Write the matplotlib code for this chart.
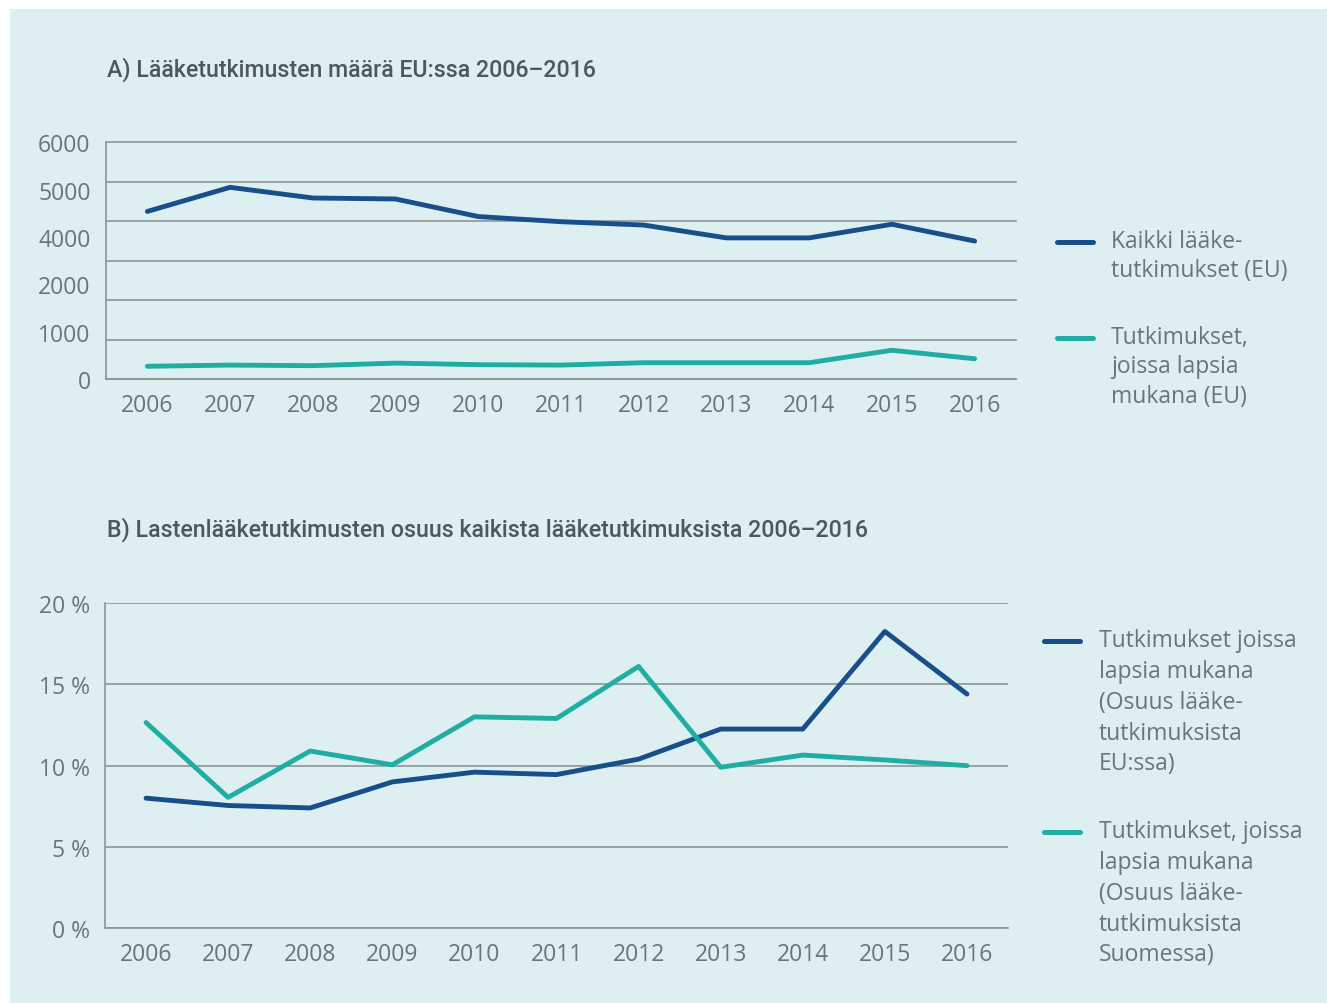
import matplotlib
matplotlib.use("Agg")
import matplotlib.pyplot as plt
from matplotlib.patches import Rectangle
from matplotlib.lines import Line2D
from matplotlib.ticker import FixedLocator

# ---- data ----
years = [2006, 2007, 2008, 2009, 2010, 2011, 2012, 2013, 2014, 2015, 2016]
all_trials_eu = [4250, 4860, 4590, 4565, 4120, 3990, 3905, 3580, 3580, 3925, 3500]
child_trials_eu = [330, 360, 345, 410, 370, 360, 420, 420, 420, 735, 520]
share_children_eu = [8.0, 7.55, 7.4, 9.0, 9.6, 9.45, 10.4, 12.25, 12.25, 18.25, 14.4]
share_children_fi = [12.65, 8.05, 10.9, 10.05, 13.0, 12.9, 16.1, 9.9, 10.65, 10.35, 10.0]

top_gridlines = [0, 1000, 2000, 3000, 4000, 5000, 6000]
top_tick_pos = [0, 1200, 2400, 3600, 4800, 6000]
top_tick_labels = ["0", "1000", "2000", "4000", "5000", "6000"]
bottom_ticks = [0, 5, 10, 15, 20]
bottom_tick_labels = ["0 %", "5 %", "10 %", "15 %", "20 %"]

title_a = "A) Lääketutkimusten määrä EU:ssa 2006–2016"
title_b = "B) Lastenlääketutkimusten osuus kaikista lääketutkimuksista 2006–2016"
legend_a = ["Kaikki lääke-\ntutkimukset (EU)", "Tutkimukset,\njoissa lapsia\nmukana (EU)"]
legend_b = ["Tutkimukset joissa\nlapsia mukana\n(Osuus lääke-\ntutkimuksista\nEU:ssa)",
            "Tutkimukset, joissa\nlapsia mukana\n(Osuus lääke-\ntutkimuksista\nSuomessa)"]

# ---- style ----
W, H = 1327, 1004
DARK = "#184f8b"
TEAL = "#20ada3"
GRID = "#8d9596"
TXT = "#6b7476"
TITLE = "#4d585c"
BG = "#ddeff0"
FONT = ["Open Sans", "DejaVu Sans"]
TFONT = ["Roboto", "Open Sans", "DejaVu Sans"]
plt.rcParams["font.family"] = FONT

fig = plt.figure(figsize=(W / 100, H / 100), dpi=100, facecolor="white")
fig.add_artist(Rectangle((10 / W, 0), 1 - 10 / W, 1 - 10 / H, transform=fig.transFigure,
                         facecolor=BG, edgecolor="none", zorder=-10))


def px(x, y):
    return x / W, 1 - y / H


def axes_px(left, top, right, bottom):
    return fig.add_axes([left / W, 1 - bottom / H, (right - left) / W, (bottom - top) / H])


def style_axes(ax):
    ax.set_facecolor("none")
    for s in ["top", "right"]:
        ax.spines[s].set_visible(False)
    for s in ["left", "bottom"]:
        ax.spines[s].set_color(GRID)
        ax.spines[s].set_linewidth(1.2)
    ax.set_xlim(2005.5, 2016.5)
    ax.set_xticks(years)
    ax.set_xticklabels([str(y) for y in years])
    ax.tick_params(axis="both", which="both", length=0, labelsize=16.5, labelcolor=TXT)
    ax.tick_params(axis="x", pad=10)
    ax.tick_params(axis="y", pad=11)


# ---- panel A ----
ax1 = axes_px(106, 143.3, 1016, 380.3)
style_axes(ax1)
ax1.set_ylim(0, 6000)
ax1.yaxis.remove_overlapping_locs = False
ax1.yaxis.set_major_locator(FixedLocator(top_tick_pos))
ax1.set_yticklabels(top_tick_labels)
ax1.yaxis.set_minor_locator(FixedLocator(top_gridlines))
ax1.grid(False, which="major")
ax1.grid(True, which="minor", axis="y", color=GRID, linewidth=1.2)
for gl in ax1.yaxis.get_minorticklines() + [t.gridline for t in ax1.yaxis.get_minor_ticks()]:
    gl.set_clip_on(False)
ax1.set_axisbelow(True)
l1, = ax1.plot(years, all_trials_eu, color=DARK, lw=3.5, solid_capstyle="round", zorder=3)
l2, = ax1.plot(years, child_trials_eu, color=TEAL, lw=3.5, solid_capstyle="round", zorder=3)

# ---- panel B ----
ax2 = axes_px(105, 604, 1008, 929.3)
style_axes(ax2)
ax2.set_ylim(0, 20)
ax2.set_yticks(bottom_ticks)
ax2.set_yticklabels(bottom_tick_labels)
ax2.grid(True, axis="y", color=GRID, linewidth=1.2)
ax2.set_axisbelow(True)
l3, = ax2.plot(years, share_children_eu, color=DARK, lw=3.5, solid_capstyle="round", zorder=3)
l4, = ax2.plot(years, share_children_fi, color=TEAL, lw=3.5, solid_capstyle="round", zorder=3)

# ---- titles ----
fig.text(*px(107, 70), title_a, fontsize=16.7, color=TITLE, family=TFONT,
         fontweight="medium", va="center", ha="left")
fig.text(*px(107, 530), title_b, fontsize=16.7, color=TITLE, family=TFONT,
         fontweight="medium", va="center", ha="left")


# ---- legends (manual) ----
def legend_entry(line, x0, x1, y, tx, text, spacing):
    fig.add_artist(Line2D([x0 / W, x1 / W], [1 - y / H, 1 - y / H], transform=fig.transFigure,
                          color=line.get_color(), lw=3.6, solid_capstyle="round"))
    fig.text(*px(tx, y - 13), text, fontsize=16.5, color=TXT, va="top", ha="left",
             linespacing=spacing)


legend_entry(l1, 1057, 1093, 243, 1111, legend_a[0], 1.3)
legend_entry(l2, 1057, 1093, 339, 1111, legend_a[1], 1.3)
legend_entry(l3, 1044, 1080, 642, 1099, legend_b[0], 1.38)
legend_entry(l4, 1044, 1080, 833, 1099, legend_b[1], 1.38)

fig.savefig("out.png", dpi=100, facecolor="white")
